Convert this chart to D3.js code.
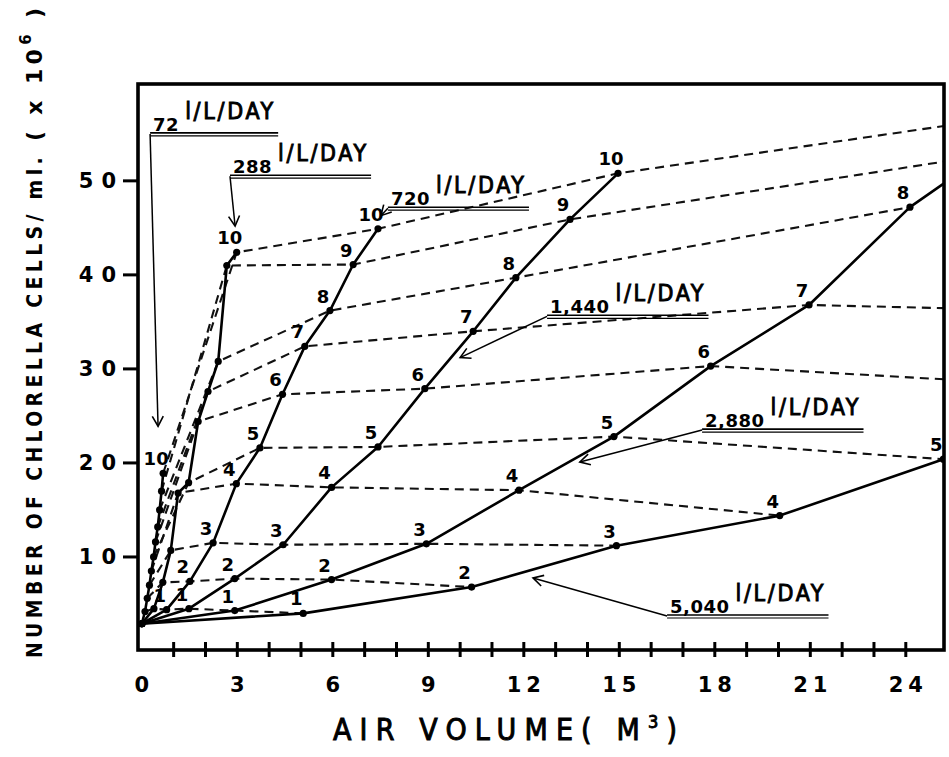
<!DOCTYPE html>
<html>
<head>
<meta charset="utf-8">
<title>Chlorella cells vs air volume</title>
<script src="https://d3js.org/d3.v7.min.js"></script>
<style>
    html, body { margin: 0; background: #fff; }
    svg { display: block; background: #fff; }
    .bold { font-family: "DejaVu Sans", sans-serif; font-weight: bold; }
    .cond { font-family: "DejaVu Sans Condensed", "DejaVu Sans", sans-serif; font-weight: bold; }
    .title { font-family: "DejaVu Sans Condensed", "DejaVu Sans", sans-serif; font-weight: normal; stroke: #000; stroke-width: 0.9px; }
</style>
</head>
<body>
<svg id="chart" width="949" height="757"></svg>

<script>

    // air volume (m3) and cells (x10^6 / ml) for day 0, 1, 2 ... of each aeration rate
    var air72 = [0, 0.10, 0.17, 0.24, 0.30, 0.37, 0.43, 0.50, 0.56, 0.62, 0.67]
    var cells72 = [2.9, 4.2, 5.6, 7.0, 8.5, 10.0, 11.6, 13.2, 15.0, 17.0, 18.9]
    var air288 = [0, 0.38, 0.66, 0.91, 1.14, 1.47, 1.77, 2.08, 2.40, 2.67, 2.98]
    var cells288 = [2.9, 4.5, 7.3, 10.7, 16.8, 17.9, 24.4, 27.6, 30.8, 41.0, 42.4]
    var air720 = [0, 0.78, 1.51, 2.24, 2.97, 3.71, 4.42, 5.12, 5.91, 6.64, 7.42]
    var cells720 = [2.9, 4.4, 7.4, 11.5, 17.8, 21.6, 27.3, 32.4, 36.2, 41.1, 44.9]
    var air1440 = [0, 1.48, 2.92, 4.44, 5.96, 7.42, 8.89, 10.41, 11.75, 13.45, 14.96]
    var cells1440 = [2.9, 4.5, 7.7, 11.3, 17.4, 21.7, 27.9, 34.0, 39.7, 45.9, 50.8]
    var air2880 = [0, 2.92, 5.96, 8.94, 11.85, 14.83, 17.87, 20.96, 24.13, 26.45, 29.0]
    var cells2880 = [2.9, 4.3, 7.6, 11.4, 17.1, 22.8, 30.3, 36.8, 47.2, 52.7, 57.7]
    var air5040 = [0, 5.07, 10.36, 14.91, 20.04, 25.18, 31.4, 37.2]
    var cells5040 = [2.9, 4.0, 6.8, 11.2, 14.4, 20.4, 27.7, 35.5]

    var rates = ["72", "288", "720", "1,440", "2,880", "5,040"]
    // which days carry a number next to the dot
    var labelDays = [[10], [10], [1,2,3,4,5,6,7,8,9,10], [1,2,3,4,5,6,7,8,9,10], [1,2,3,4,5,6,7,8], [1,2,3,4,5]]

    var xTicks = [0, 3, 6, 9, 12, 15, 18, 21, 24]
    var xMinorTicks = d3.range(1, 25)
    var yTicks = [10, 20, 30, 40, 50]

    // rate labels: where the underline starts and where its arrow points (data units)
    var noteAt = [[0.26, 55.1], [2.77, 50.6], [7.73, 47.2], [12.73, 35.7], [17.6, 23.6], [16.5, 3.83]]
    var noteTo = [[0.51, 23.9], [2.93, 45.2], [7.51, 46.3], [10.0, 31.2], [13.76, 20.1], [12.29, 7.77]]

    var allAir = [air72, air288, air720, air1440, air2880, air5040]
    var allCells = [cells72, cells288, cells720, cells1440, cells2880, cells5040]

    var series = rates.map(function(r, i) {
        return {
            rate: r,
            points: allAir[i].map(function(a, d) {
                return {day: d, air: a, cells: allCells[i][d], labelled: labelDays[i].indexOf(d) >= 0}
            })
        }
    })

    var frame = {left: 138, top: 84, right: 944, bottom: 650}

    var x = d3.scaleLinear().domain([-0.12, 25.2]).range([frame.left, frame.right])
    var y = d3.scaleLinear().domain([0, 60.3]).range([651, frame.top])

    var svg = d3.select("#chart")
    var defs = svg.append("defs")

    defs.append("clipPath").attr("id", "plot")
        .append("rect")
        .attr("x", frame.left).attr("y", frame.top)
        .attr("width", frame.right - frame.left).attr("height", frame.bottom - frame.top)

    defs.append("marker").attr("id", "arrow")
        .attr("viewBox", "-11 -7 13 14")
        .attr("refX", 0).attr("refY", 0)
        .attr("markerWidth", 13).attr("markerHeight", 14)
        .attr("markerUnits", "userSpaceOnUse")
        .attr("orient", "auto")
        .append("path")
        .attr("d", "M-10,-5.5L0,0L-10,5.5")
        .attr("fill", "none").attr("stroke", "#000").attr("stroke-width", 1.6)

    var line = d3.line()
        .x(function(d) { return x(d.air) })
        .y(function(d) { return y(d.cells) })

    var plot = svg.append("g").attr("clip-path", "url(#plot)")

    // dashed lines join the same day across the aeration rates
    var dayLines = d3.range(1, 11).map(function(d) {
        var pts = []
        series.forEach(function(s) {
            if (s.points[d]) pts.push(s.points[d])
        })
        return pts
    })

    plot.selectAll(".day")
        .data(dayLines)
        .enter().append("path")
        .attr("class", "day")
        .attr("d", line)
        .attr("fill", "none")
        .attr("stroke", "#111")
        .attr("stroke-width", 2.1)
        .attr("stroke-dasharray", "9,6")

    plot.selectAll(".rate")
        .data(series)
        .enter().append("path")
        .attr("class", "rate")
        .attr("d", function(s) { return line(s.points) })
        .attr("fill", "none")
        .attr("stroke", "#000")
        .attr("stroke-width", 2.6)
        .attr("stroke-linejoin", "round")

    var allPoints = d3.merge(series.map(function(s) { return s.points }))

    plot.selectAll(".dot")
        .data(allPoints)
        .enter().append("circle")
        .attr("class", "dot")
        .attr("cx", function(d) { return x(d.air) })
        .attr("cy", function(d) { return y(d.cells) })
        .attr("r", 3.6)
        .attr("fill", "#000")

    svg.selectAll(".daylabel")
        .data(allPoints.filter(function(d) { return d.labelled }))
        .enter().append("text")
        .attr("class", "daylabel bold")
        .attr("x", function(d) { return x(d.air) - 7 })
        .attr("y", function(d) { return y(d.cells) - 8 })
        .attr("text-anchor", "middle")
        .style("font-size", "18px")
        .text(function(d) { return d.day })

    // frame and ticks
    svg.append("rect")
        .attr("x", frame.left).attr("y", frame.top)
        .attr("width", frame.right - frame.left).attr("height", frame.bottom - frame.top)
        .attr("fill", "none").attr("stroke", "#000").attr("stroke-width", 3.6)

    svg.selectAll(".xtick")
        .data(xMinorTicks)
        .enter().append("line")
        .attr("class", "xtick")
        .attr("x1", function(d) { return x(d) }).attr("x2", function(d) { return x(d) })
        .attr("y1", frame.bottom - 8).attr("y2", frame.bottom + 7)
        .attr("stroke", "#000").attr("stroke-width", 3)

    svg.selectAll(".ytick")
        .data(yTicks)
        .enter().append("line")
        .attr("class", "ytick")
        .attr("x1", frame.left - 15).attr("x2", frame.left)
        .attr("y1", function(d) { return y(d) }).attr("y2", function(d) { return y(d) })
        .attr("stroke", "#000").attr("stroke-width", 3)

    svg.selectAll(".xlabel")
        .data(xTicks)
        .enter().append("text")
        .attr("class", "xlabel bold")
        .attr("x", function(d) { return x(d) + 2.5 })
        .attr("y", 692)
        .attr("text-anchor", "middle")
        .style("font-size", "21px")
        .style("letter-spacing", "5px")
        .text(function(d) { return d })

    svg.selectAll(".ylabel")
        .data(yTicks)
        .enter().append("text")
        .attr("class", "ylabel bold")
        .attr("x", 124)
        .attr("y", function(d) { return y(d) + 7.5 })
        .attr("text-anchor", "end")
        .style("font-size", "21px")
        .style("letter-spacing", "8px")
        .text(function(d) { return d })

    // axis titles
    var xt = svg.append("text")
        .attr("class", "title")
        .attr("x", 333).attr("y", 740)
        .attr("textLength", 344).attr("lengthAdjust", "spacing")
        .style("font-size", "30px")
    xt.append("tspan").text("AIR  VOLUME( M")
    xt.append("tspan").attr("dy", -12).style("font-size", "18px").text("3")
    xt.append("tspan").attr("dy", 12).text(")")

    var yt = svg.append("text")
        .attr("class", "cond")
        .attr("transform", "translate(42,658) rotate(-90)")
        .attr("textLength", 650).attr("lengthAdjust", "spacing")
        .style("font-size", "21px")
    yt.append("tspan").text("NUMBER  OF  CHLORELLA  CELLS/ ml.")
    yt.append("tspan").attr("class", "bold").style("font-size", "22px").text(" ( x 10")
    yt.append("tspan").attr("class", "bold").attr("dy", -11).style("font-size", "15px").text("6")
    yt.append("tspan").attr("class", "bold").attr("dy", 11).style("font-size", "22px").text(" )")

    // rate labels with double underline and arrow
    var notes = rates.map(function(r, i) {
        return {rate: r, at: noteAt[i], to: noteTo[i]}
    })

    notes.forEach(function(n) {
        var x0 = x(n.at[0]), y0 = y(n.at[1])
        var g = svg.append("g")
        var num = g.append("text")
            .attr("class", "bold")
            .attr("x", x0 + 3).attr("y", y0 - 2)
            .style("font-size", "18px")
            .style("letter-spacing", "0.5px")
            .text(n.rate)
        var numEnd = x0 + 3 + num.node().getComputedTextLength()
        g.append("text")
            .attr("class", "title")
            .attr("x", numEnd + 6).attr("y", y0 - 14)
            .attr("textLength", 88).attr("lengthAdjust", "spacing")
            .style("font-size", "23px")
            .text("l/L/DAY")
        var x1 = numEnd + 6 + 88 + 5
        g.append("line")
            .attr("x1", x0).attr("x2", x1).attr("y1", y0).attr("y2", y0)
            .attr("stroke", "#000").attr("stroke-width", 1.6)
        g.append("line")
            .attr("x1", x0).attr("x2", x1).attr("y1", y0 + 3).attr("y2", y0 + 3)
            .attr("stroke", "#000").attr("stroke-width", 1.2)
        g.append("line")
            .attr("x1", x0).attr("y1", y0 + 1)
            .attr("x2", x(n.to[0])).attr("y2", y(n.to[1]))
            .attr("stroke", "#000").attr("stroke-width", 1.5)
            .attr("marker-end", "url(#arrow)")
    })

</script>
</body>
</html>
